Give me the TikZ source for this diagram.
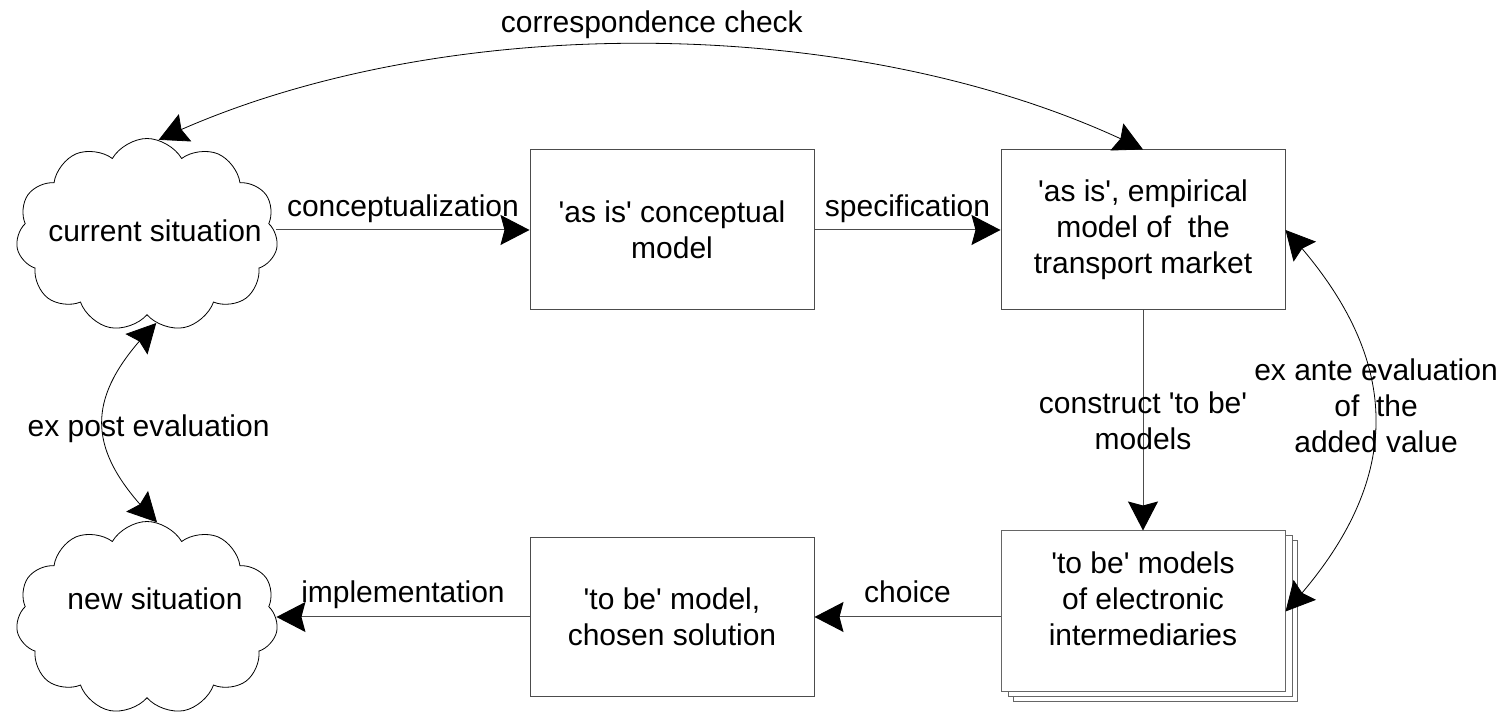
\documentclass[tikz,border=0pt]{standalone}
\usepackage{fontspec}
\setmainfont{Liberation Sans}
\usetikzlibrary{arrows.meta,shapes.symbols,bending,calc}
\newcommand{\apo}{\textquotesingle}

\begin{document}
\begin{tikzpicture}[x=1pt,y=1pt,
  font=\fontsize{30}{36}\selectfont,
  >={Stealth[length=29pt,width=30pt,inset=4pt,color=black]},
  box/.style={draw=black!70, line width=1pt, fill=white, minimum width=284pt,
    minimum height=160pt, inner sep=0pt, align=center},
  sheet/.style={box, draw=black!60, minimum height=161pt},
  puff/.style={cloud, cloud puffs=11, cloud puff arc=120, cloud ignores aspect,
    draw=black, line width=0.8pt, fill=white, minimum width=262pt,
    minimum height=193pt, inner sep=0pt},
  txt/.style={inner sep=0pt, align=center},
  link/.style={draw=black!70, line width=1pt, ->},
  curve/.style={draw=black, line width=0.8pt, <->},
  lab/.style={inner sep=0pt, anchor=base}
]
\useasboundingbox (0,0) rectangle (1508,714);

% situations
\node[puff] (c1) at (147,479) {};
\node[txt] (c1t) at (155,483) {current situation};
\node[puff] (c2) at (147,96) {};
\node[txt] (c2t) at (155,115) {new situation};

% models
\node[box] (b1) at (672,484) {\apo as is\apo{} conceptual\\model};
\node[box] (b2) at (1143,484) {\apo as is\apo, empirical\\model of\ \ the\\transport market};
\node[sheet] (s3) at (1155,92.5) {};
\node[sheet] (s2) at (1150,97.5) {};
\node[sheet] (b3) at (1143,102.5) {};
\node[txt] (b3t) at (1143,115.5) {\apo to be\apo{} models\\of electronic\\intermediaries};
\node[box, minimum height=159pt] (b4) at (672,97) {\apo to be\apo{} model,\\chosen solution};

% straight flows
\draw[link] (b1.west -| c1.east) -- node[lab, midway, yshift=13pt] {conceptualization} (b1.west);
\draw[link] (b1.east) -- node[lab, midway, yshift=13pt] {specification} (b2.west);
\draw[link] (b2.south) -- node[txt, midway] {construct \apo to be\apo\\models} (b3.north);
\draw[link] (b3.west |- b4.east) -- node[lab, midway, yshift=14pt] {choice} (b4.east);
\draw[link] (b4.west) -- node[lab, midway, yshift=14pt] {implementation} (b4.west -| c2.east);

% evaluation loops
\draw[curve] (b2.north) to[bend right=26, looseness=0.8]
  node[lab, midway, yshift=11pt] {correspondence check} (c1.83);
\draw[curve] (c1.-84) to[bend right=45, looseness=1.33]
  node[lab, midway, xshift=47pt, yshift=-13.5pt] {ex post evaluation} (c2.84);
\draw[curve] (b2.east) to[bend left=43, looseness=1.19]
  node[txt, midway, yshift=15pt] {ex ante evaluation\\of\ \ the\\added value} (b3.east);
\end{tikzpicture}
\end{document}
